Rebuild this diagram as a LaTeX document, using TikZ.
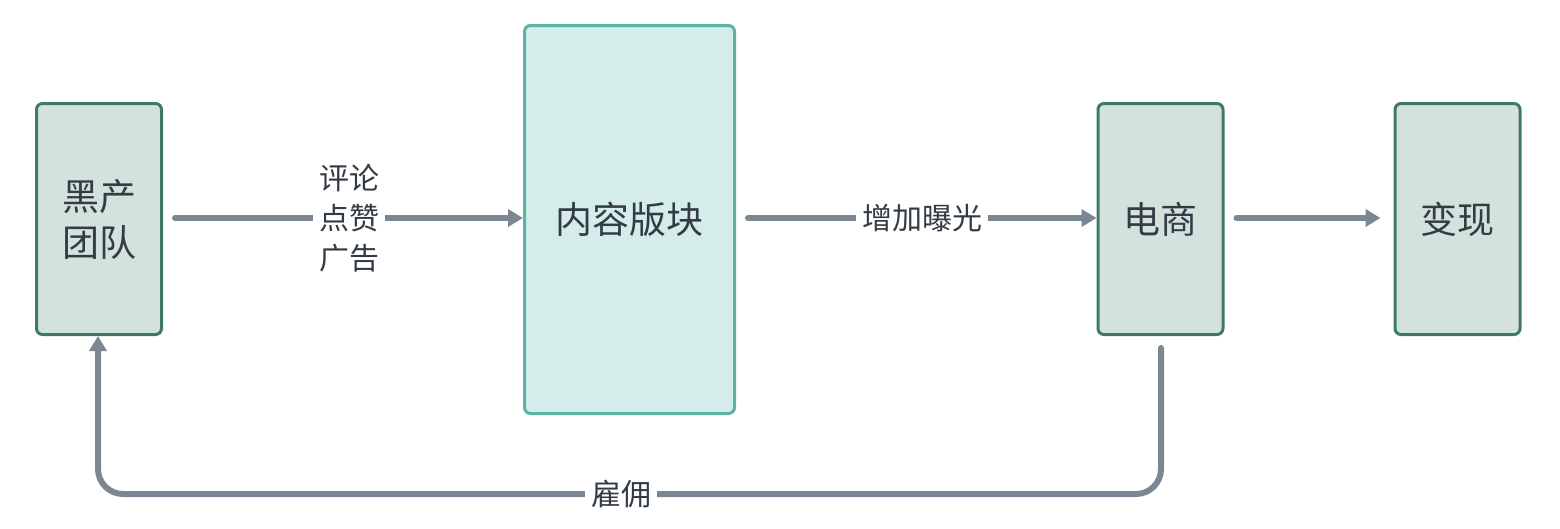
\documentclass[tikz,border=0pt]{standalone}
\usepackage{fontspec}
\setmainfont{Noto Sans CJK SC}
\usetikzlibrary{arrows.meta}
\definecolor{boxfill}{HTML}{D4E2DE}
\definecolor{boxline}{HTML}{3F7A68}
\definecolor{midfill}{HTML}{D5EDEA}
\definecolor{midline}{HTML}{5AB3A3}
\definecolor{conn}{HTML}{7C8794}
\definecolor{txt}{HTML}{333C45}
\tikzset{
  darkbox/.style={draw=boxline, fill=boxfill, line width=3pt, rounded corners=6pt,
    minimum width=125pt, minimum height=231pt, text=txt, font=\fontsize{37}{46}\selectfont, align=center, inner sep=0pt},
  midbox/.style={draw=midline, fill=midfill, line width=3pt, rounded corners=6pt,
    minimum width=210pt, minimum height=388pt, text=txt, font=\fontsize{37}{46}\selectfont, inner sep=0pt},
  conn/.style={draw=conn, line width=6pt, line cap=round, -{Triangle[length=15pt,width=17pt]}},
  lbl/.style={fill=white, text=txt, font=\fontsize{30}{40}\selectfont, align=center, inner sep=6pt}
}
\begin{document}
\begin{tikzpicture}[x=1pt,y=-1pt]
\useasboundingbox (0,0) rectangle (1560,528);
\node[darkbox] (A) at (99,219) {黑产\\团队};
\node[midbox] (B) at (629.5,219.5) {内容版块};
\node[darkbox] (C) at (1160.5,219) {电商};
\node[darkbox] (D) at (1457.5,219) {变现};
\draw[conn, shorten <=12pt] (A.east |- 0,218) -- (B.west |- 0,218);
\node[lbl] (l1) at (349,218) {评论\\点赞\\广告};
\draw[conn, shorten <=12pt] (B.east |- 0,218) -- (C.west |- 0,218);
\node[lbl] (l2) at (922,218) {增加曝光};
\draw[conn, shorten <=12pt, shorten >=13pt] (C.east |- 0,218) -- (D.west |- 0,218);
\coordinate (c1) at (1161,494);
\coordinate (c2) at (98,494);
\draw[conn, shorten <=12pt, rounded corners=25pt] (C.south -| 1161,0) -- (c1) -- (c2) -- (A.south -| 98,0);
\node[lbl] (l3) at (621,494) {雇佣};
\end{tikzpicture}
\end{document}
